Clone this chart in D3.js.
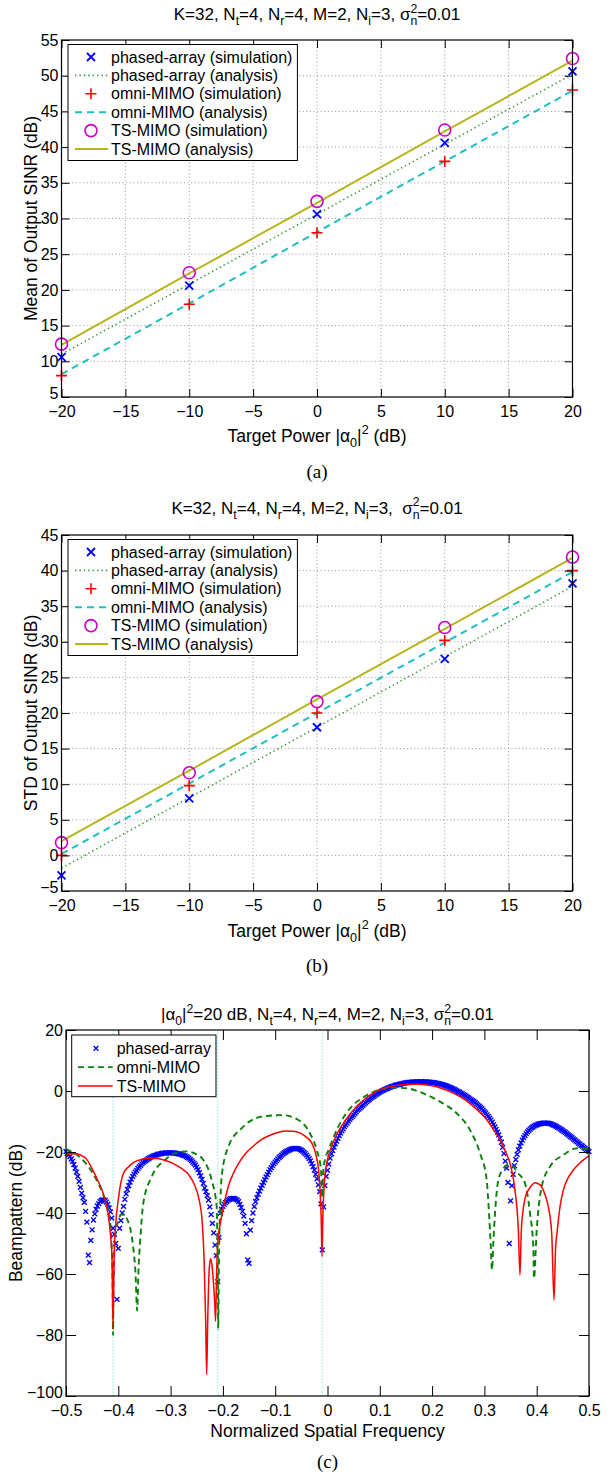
<!DOCTYPE html>
<html>
<head>
<meta charset="utf-8">
<script src="https://cdn.jsdelivr.net/npm/d3@7"></script>
<style>
  body { margin: 0; background: #fff; }
  svg { display: block; }
  text { white-space: pre; }
</style>
</head>
<body>
<svg id="fig" width="616" height="1474"></svg>
<script>
// ---------- Output SINR vs. target power (panels a, b) ----------
const targetPowerDb = [-20, -10, 0, 10, 20];

const meanPhasedSim = [10.6, 20.6, 30.6, 40.6, 50.6];
const meanPhasedAna = [11.0, 20.8, 30.6, 40.4, 50.2];
const meanOmniSim   = [8.0, 18.0, 28.0, 38.0, 48.0];
const meanOmniAna   = [8.2, 18.1, 28.1, 38.0, 47.9];
const meanTsSim     = [12.4, 22.4, 32.4, 42.4, 52.4];
const meanTsAna     = [12.3, 22.3, 32.2, 42.2, 52.1];

const stdPhasedSim = [-2.8, 8.0, 18.0, 27.6, 38.2];
const stdPhasedAna = [-1.8, 8.1, 18.0, 27.9, 37.8];
const stdOmniSim   = [0.0, 9.8, 20.0, 30.2, 40.0];
const stdOmniAna   = [0.2, 10.1, 20.0, 29.9, 39.8];
const stdTsSim     = [1.8, 11.6, 21.6, 32.0, 41.9];
const stdTsAna     = [2.0, 11.9, 21.9, 31.8, 41.8];

const sinrLegendLabels = [
  "phased-array (simulation)", "phased-array (analysis)",
  "omni-MIMO (simulation)", "omni-MIMO (analysis)",
  "TS-MIMO (simulation)", "TS-MIMO (analysis)"
];

// ---------- Beampattern (panel c) ----------
// phased-array samples on a uniform spatial-frequency grid, step 0.0025
const phasedFreqStart = -0.5, phasedFreqStep = 0.0025;
const phasedBeamDb = [
  -19.9, -20.4, -20.9, -21.5, -22.3, -23.1, -24.1, -25.3, -26.6, -28.0,
  -29.6, -31.6, -33.5, -35.0, -36.5, -39.5, -43.0, -53.8, -56.3, -49.0,
  -45.5, -42.3, -40.3, -38.8, -37.7, -36.9, -36.3, -35.9, -35.7, -35.7,
  -35.9, -36.4, -37.2, -38.3, -39.6, -41.7, -45.0, -47.0, -50.0, -68.3,
  -51.6, -45.0, -42.5, -40.0, -37.8, -35.5, -33.7, -32.3, -31.0, -29.9,
  -28.9, -28.0, -27.3, -26.6, -26.0, -25.4, -24.9, -24.4, -23.9, -23.5,
  -23.1, -22.8, -22.5, -22.2, -21.9, -21.7, -21.5, -21.3, -21.1, -21.0,
  -20.8, -20.7, -20.6, -20.5, -20.4, -20.4, -20.3, -20.3, -20.3, -20.3,
  -20.3, -20.3, -20.3, -20.4, -20.4, -20.5, -20.6, -20.7, -20.8, -21.0,
  -21.1, -21.3, -21.5, -21.8, -22.0, -22.4, -22.8, -23.3, -23.8, -24.3,
  -25.0, -25.8, -26.8, -27.8, -29.0, -30.3, -31.8, -33.0, -34.3, -35.8,
  -38.0, -40.5, -43.4, -46.5, -50.5, -54.0, -62.5, -48.0, -40.1, -38.8,
  -37.8, -37.2, -36.6, -36.2, -35.8, -35.5, -35.3, -35.2, -35.2, -35.3,
  -35.5, -35.8, -36.3, -37.2, -38.2, -39.5, -41.0, -43.4, -46.8, -55.4,
  -56.5, -45.6, -42.5, -40.0, -37.9, -36.3, -35.0, -33.8, -32.8, -31.8,
  -30.9, -30.0, -29.1, -28.2, -27.4, -26.6, -25.8, -25.1, -24.5, -23.9,
  -23.3, -22.8, -22.3, -21.8, -21.4, -21.0, -20.6, -20.3, -20.0, -19.7,
  -19.5, -19.3, -19.1, -19.0, -18.9, -18.8, -18.8, -18.9, -19.0, -19.2,
  -19.4, -19.7, -20.1, -20.5, -21.0, -21.6, -22.2, -22.9, -23.8, -24.8,
  -25.9, -27.3, -28.8, -30.8, -33.0, -37.0, -52.1, -38.0, -31.0, -28.0,
  -26.0, -24.0, -22.0, -20.6, -19.5, -18.4, -17.3, -16.4, -15.5, -14.6,
  -13.8, -13.1, -12.4, -11.7, -11.1, -10.5, -9.9, -9.3, -8.8, -8.3,
  -7.8, -7.3, -6.8, -6.3, -5.9, -5.5, -5.1, -4.7, -4.3, -3.9,
  -3.5, -3.1, -2.8, -2.4, -2.1, -1.8, -1.5, -1.2, -0.9, -0.6,
  -0.4, -0.1, 0.1, 0.3, 0.5, 0.7, 0.9, 1.1, 1.3, 1.4,
  1.6, 1.7, 1.9, 2.0, 2.1, 2.2, 2.3, 2.4, 2.5, 2.6,
  2.7, 2.7, 2.8, 2.8, 2.9, 2.9, 3.0, 3.0, 3.0, 3.0,
  3.1, 3.1, 3.1, 3.0, 3.0, 3.0, 3.0, 2.9, 2.9, 2.8,
  2.8, 2.7, 2.7, 2.6, 2.5, 2.4, 2.3, 2.2, 2.1, 1.9,
  1.8, 1.6, 1.5, 1.3, 1.1, 0.9, 0.7, 0.5, 0.3, 0.0,
  -0.2, -0.4, -0.7, -0.9, -1.2, -1.4, -1.7, -2.0, -2.3, -2.6,
  -2.9, -3.2, -3.5, -3.8, -4.2, -4.6, -5.0, -5.4, -5.8, -6.3,
  -6.8, -7.3, -7.8, -8.3, -8.9, -9.5, -10.2, -11.0, -11.8, -12.6,
  -13.5, -14.4, -15.5, -16.8, -18.5, -20.5, -23.0, -25.3, -30.0, -50.0,
  -36.0, -31.0, -27.3, -24.5, -22.5, -20.8, -19.3, -18.1, -17.0, -16.1,
  -15.3, -14.6, -14.0, -13.4, -12.9, -12.5, -12.1, -11.8, -11.5, -11.3,
  -11.1, -10.9, -10.8, -10.7, -10.6, -10.5, -10.5, -10.5, -10.5, -10.6,
  -10.7, -10.8, -11.0, -11.2, -11.4, -11.6, -11.9, -12.1, -12.4, -12.7,
  -13.0, -13.3, -13.6, -14.0, -14.3, -14.6, -15.0, -15.3, -15.7, -16.0,
  -16.4, -16.7, -17.1, -17.4, -17.8, -18.1, -18.5, -18.8, -19.2, -19.5,
  -19.9
];

const omniBeamFreq = [
  -0.500, -0.490, -0.483, -0.470, -0.457, -0.447, -0.438, -0.430, -0.4254, -0.4159,
  -0.413, -0.411, -0.410, -0.409, -0.406, -0.400, -0.394, -0.388, -0.382, -0.376,
  -0.371, -0.367, -0.364, -0.361, -0.3585, -0.3522, -0.3361, -0.3107, -0.290, -0.270,
  -0.255, -0.2375, -0.2215, -0.2119, -0.2105, -0.2095, -0.209, -0.2075, -0.2055, -0.2023,
  -0.1897, -0.164, -0.1258, -0.0876, -0.0558, -0.0335, -0.0207, -0.0124, -0.0105, -0.008,
  -0.004, 0.0016, 0.0207, 0.035, 0.0462, 0.0654, 0.085, 0.105, 0.125, 0.1514,
  0.1832, 0.2151, 0.247, 0.2725, 0.2916, 0.3044, 0.3088, 0.312, 0.3145, 0.317,
  0.3203, 0.3266, 0.3362, 0.345, 0.353, 0.362, 0.3776, 0.3872, 0.3935, 0.3948,
  0.400, 0.4095, 0.4254, 0.4509, 0.4764, 0.500
];
const omniBeamDb = [
  -19.1, -19.8, -20.4, -22.3, -24.8, -27.5, -30.3, -33.5, -35.7, -42.3,
  -50.0, -62.0, -80.0, -62.0, -48.0, -42.5, -40.5, -40.8, -42.5, -46.0,
  -52.0, -60.0, -72.0, -57.0, -50.0, -36.8, -28.1, -22.6, -20.3, -19.8,
  -20.4, -22.6, -29.2, -37.9, -50.0, -65.0, -78.0, -55.0, -40.0, -28.0,
  -18.3, -12.2, -8.4, -7.9, -9.5, -13.9, -19.3, -25.9, -35.0, -26.0,
  -22.0, -19.5, -11.7, -7.5, -5.1, -2.4, -0.5, 0.6, 1.1, 0.9,
  -0.8, -3.5, -7.3, -12.8, -20.4, -29.2, -40.1, -50.0, -58.7, -50.0,
  -40.1, -29.2, -25.5, -24.2, -24.5, -26.5, -30.3, -40.1, -51.0, -61.4,
  -45.6, -31.4, -24.8, -21.0, -18.8, -19.1
];

const tsBeamFreq = [
  -0.500, -0.490, -0.480, -0.470, -0.460, -0.450, -0.440, -0.430, -0.425, -0.420,
  -0.415, -0.412, -0.410, -0.408, -0.405, -0.400, -0.395, -0.390, -0.380, -0.370,
  -0.355, -0.340, -0.325, -0.310, -0.295, -0.280, -0.265, -0.255, -0.245, -0.240,
  -0.236, -0.233, -0.231, -0.229, -0.226, -0.2235, -0.221, -0.218, -0.2155, -0.214,
  -0.212, -0.210, -0.205, -0.200, -0.190, -0.180, -0.170, -0.155, -0.140, -0.125,
  -0.110, -0.095, -0.080, -0.065, -0.050, -0.040, -0.030, -0.022, -0.017, -0.014,
  -0.012, -0.0105, -0.009, -0.007, -0.005, 0.000, 0.005, 0.015, 0.027, 0.040,
  0.055, 0.070, 0.088, 0.105, 0.120, 0.140, 0.158, 0.175, 0.190, 0.210,
  0.234, 0.255, 0.273, 0.290, 0.305, 0.318, 0.330, 0.340, 0.349, 0.3585,
  0.3649, 0.368, 0.3705, 0.3732, 0.378, 0.384, 0.390, 0.3967, 0.403, 0.4095,
  0.416, 0.4222, 0.4287, 0.4331, 0.436, 0.4394, 0.445, 0.4509, 0.460, 0.470,
  0.480, 0.490, 0.500
];
const tsBeamDb = [
  -21.0, -20.6, -20.6, -21.2, -22.5, -25.5, -29.0, -33.0, -36.0, -40.0,
  -47.0, -55.0, -78.0, -55.0, -44.0, -35.5, -30.0, -27.0, -24.8, -23.3,
  -22.4, -22.0, -22.1, -22.8, -23.8, -25.3, -27.5, -30.5, -36.0, -42.0,
  -55.0, -75.0, -93.0, -75.0, -58.0, -55.0, -57.0, -63.0, -70.0, -75.5,
  -60.0, -50.0, -43.5, -39.0, -31.5, -27.0, -23.7, -20.2, -17.8, -15.8,
  -14.5, -13.6, -13.1, -13.2, -14.0, -15.2, -17.1, -21.0, -26.0, -33.5,
  -42.0, -54.3, -42.0, -33.0, -28.0, -22.5, -19.5, -15.2, -11.5, -8.3,
  -5.2, -2.8, -0.6, 0.7, 1.5, 2.0, 2.2, 2.2, 2.0, 1.3,
  -0.2, -2.0, -4.2, -6.8, -9.5, -12.8, -16.1, -19.8, -23.7, -32.5,
  -45.6, -60.3, -46.0, -40.1, -35.0, -32.5, -31.0, -30.1, -30.4, -31.4,
  -34.0, -37.9, -46.7, -68.5, -52.0, -45.6, -37.5, -32.5, -28.5, -25.9,
  -24.0, -22.5, -21.3
];

// interference directions (normalized spatial frequency)
const interfererFreq = [-0.41, -0.21, -0.01];

const beamLegendLabels = ["phased-array", "omni-MIMO", "TS-MIMO"];

// ---------- styling ----------
const SANS = "'Liberation Sans', Arial, Helvetica, sans-serif";
const SERIF = "'Liberation Serif', 'Times New Roman', serif";
const C = {
  blue: "#0000ff", dotGreen: "#3a9d3a", red: "#ff0000", cyan: "#1fbfbf",
  magenta: "#cc00cc", olive: "#b5b51e", darkGreen: "#0a800a", guide: "#80e6e6"
};

const svg = d3.select("#fig");

// text with sub/superscripts; parts: {t, s:'sub'|'sup', dx}
function richText(parent, x, y, parts, size, anchor) {
  const t = parent.append("text")
    .attr("x", x).attr("y", y)
    .attr("font-family", SANS).attr("font-size", size)
    .attr("text-anchor", anchor || "middle").attr("fill", "#000");
  let shift = 0;
  parts.forEach(p => {
    const target = p.s === "sub" ? size * 0.32 : p.s === "sup" ? -size * 0.42 : 0;
    const span = t.append("tspan").attr("dy", target - shift).text(p.t);
    if (p.s) span.attr("font-size", size * 0.72);
    if (p.dx) span.attr("dx", p.dx);
    shift = target;
  });
  return t;
}

function xMarker(sel, s) {
  return sel.attr("d", `M${-s},${-s}L${s},${s}M${-s},${s}L${s},${-s}`);
}
function plusMarker(sel, s) {
  return sel.attr("d", `M${-s},0L${s},0M0,${-s}L0,${s}`);
}

function styleAxis(g, size) {
  g.attr("font-family", SANS).attr("font-size", size);
  g.select(".domain").remove();
  g.selectAll(".tick line").attr("stroke", "#000").attr("stroke-width", 1);
  g.selectAll(".tick text").attr("fill", "#000");
}

function drawFrame(g, x, y, box, tickLen, fmtX, fmtY, nx, ny) {
  const b = g.append("g").attr("transform", `translate(0,${box.bottom})`)
    .call(d3.axisBottom(x).ticks(nx).tickSizeInner(-tickLen).tickSizeOuter(0).tickPadding(9).tickFormat(fmtX));
  styleAxis(b, 16);
  const t = g.append("g").attr("transform", `translate(0,${box.top})`)
    .call(d3.axisTop(x).ticks(nx).tickSizeInner(-tickLen).tickSizeOuter(0).tickFormat(() => ""));
  styleAxis(t, 16);
  const l = g.append("g").attr("transform", `translate(${box.left},0)`)
    .call(d3.axisLeft(y).ticks(ny).tickSizeInner(-tickLen).tickSizeOuter(0).tickPadding(3).tickFormat(fmtY));
  styleAxis(l, 16);
  // lift the corner label a little so it clears the first x label
  l.selectAll(".tick text").filter(d => d === y.domain()[0]).attr("dy", "0.12em");
  const r = g.append("g").attr("transform", `translate(${box.right},0)`)
    .call(d3.axisRight(y).ticks(ny).tickSizeInner(-tickLen).tickSizeOuter(0).tickFormat(() => ""));
  styleAxis(r, 16);
  g.append("rect")
    .attr("x", box.left).attr("y", box.top)
    .attr("width", box.right - box.left).attr("height", box.bottom - box.top)
    .attr("fill", "none").attr("stroke", "#000").attr("stroke-width", 1.2);
}

const minusFmt = d => (d < 0 ? "\u2212" : "") + Math.abs(d);

// ---------- SINR panels ----------
function sinrPanel(box, yDomain, data, yLabel, titleParts, titleY, xTitleY, tagY, tag) {
  const g = svg.append("g");
  const x = d3.scaleLinear().domain([-20, 20]).range([box.left, box.right]);
  const y = d3.scaleLinear().domain(yDomain).range([box.bottom, box.top]);

  // dotted grid
  const grid = g.append("g").attr("stroke", "#8a8a8a").attr("stroke-width", 0.9)
    .attr("stroke-dasharray", "1,2.6");
  grid.selectAll(".gx").data(x.ticks(10).slice(1, -1)).join("line")
    .attr("x1", d => x(d)).attr("x2", d => x(d)).attr("y1", box.top).attr("y2", box.bottom);
  grid.selectAll(".gy").data(y.ticks(10).slice(1, -1)).join("line")
    .attr("y1", d => y(d)).attr("y2", d => y(d)).attr("x1", box.left).attr("x2", box.right);

  const line = d3.line().x((d, i) => x(targetPowerDb[i])).y(d => y(d));

  // analysis curves
  g.append("path").attr("d", line(data.phasedAna)).attr("fill", "none")
    .attr("stroke", C.dotGreen).attr("stroke-width", 1.6).attr("stroke-dasharray", "1.4,3");
  g.append("path").attr("d", line(data.omniAna)).attr("fill", "none")
    .attr("stroke", C.cyan).attr("stroke-width", 2).attr("stroke-dasharray", "7,5");
  g.append("path").attr("d", line(data.tsAna)).attr("fill", "none")
    .attr("stroke", C.olive).attr("stroke-width", 2);

  // simulation markers
  g.selectAll(".px").data(data.phasedSim).join("path")
    .call(xMarker, 4)
    .attr("transform", (d, i) => `translate(${x(targetPowerDb[i])},${y(d)})`)
    .attr("stroke", C.blue).attr("stroke-width", 1.8).attr("fill", "none");
  g.selectAll(".op").data(data.omniSim).join("path")
    .call(plusMarker, 5.5)
    .attr("transform", (d, i) => `translate(${x(targetPowerDb[i])},${y(d)})`)
    .attr("stroke", C.red).attr("stroke-width", 1.6).attr("fill", "none");
  g.selectAll(".tc").data(data.tsSim).join("circle")
    .attr("cx", (d, i) => x(targetPowerDb[i])).attr("cy", d => y(d)).attr("r", 6)
    .attr("stroke", C.magenta).attr("stroke-width", 1.6).attr("fill", "none");

  drawFrame(g, x, y, box, 8, minusFmt, minusFmt, 10, 10);

  // legend
  const lx = box.left + 6.5, ly = box.top + 4.5, rowH = 18.4;
  const lg = g.append("g");
  const frame = lg.append("rect").attr("x", lx).attr("y", ly).attr("height", 116)
    .attr("fill", "#fff").attr("stroke", "#000").attr("stroke-width", 1);
  let maxW = 0;
  sinrLegendLabels.forEach((lab, k) => {
    const cy = ly + 12.5 + rowH * k;
    const t = lg.append("text").attr("x", lx + 43).attr("y", cy + 5.6)
      .attr("font-family", SANS).attr("font-size", 16).text(lab);
    maxW = Math.max(maxW, t.node().getComputedTextLength());
    const mx = lx + 23;
    if (k === 0) lg.append("path").call(xMarker, 4).attr("transform", `translate(${mx},${cy})`)
      .attr("stroke", C.blue).attr("stroke-width", 1.8);
    if (k === 2) lg.append("path").call(plusMarker, 5.5).attr("transform", `translate(${mx},${cy})`)
      .attr("stroke", C.red).attr("stroke-width", 1.6);
    if (k === 4) lg.append("circle").attr("cx", mx).attr("cy", cy).attr("r", 6)
      .attr("stroke", C.magenta).attr("stroke-width", 1.6).attr("fill", "none");
    const sample = lg.append("line").attr("x1", lx + 7).attr("x2", lx + 40).attr("y1", cy).attr("y2", cy);
    if (k === 1) sample.attr("stroke", C.dotGreen).attr("stroke-width", 1.6).attr("stroke-dasharray", "1.4,3");
    else if (k === 3) sample.attr("stroke", C.cyan).attr("stroke-width", 2).attr("stroke-dasharray", "7,5");
    else if (k === 5) sample.attr("stroke", C.olive).attr("stroke-width", 2);
    else sample.remove();
  });
  frame.attr("width", 43 + maxW + 5);

  // titles
  richText(g, (box.left + box.right) / 2, titleY, titleParts, 17);
  richText(g, (box.left + box.right) / 2, xTitleY, [
    { t: "Target Power |\u03b1" }, { t: "0", s: "sub" }, { t: "|" }, { t: "2", s: "sup" }, { t: " (dB)" }
  ], 17.5);
  g.append("text")
    .attr("transform", `translate(37,${(box.top + box.bottom) / 2}) rotate(-90)`)
    .attr("text-anchor", "middle").attr("font-family", SANS).attr("font-size", 17.5).text(yLabel);
  g.append("text").attr("x", (box.left + box.right) / 2).attr("y", tagY)
    .attr("text-anchor", "middle").attr("font-family", SERIF).attr("font-size", 19).text(tag);
}

const sinrTitle = [
  { t: "K=32, N" }, { t: "t", s: "sub" }, { t: "=4, N" }, { t: "r", s: "sub" },
  { t: "=4, M=2, N" }, { t: "i", s: "sub" }, { t: "=3, \u03c3" },
  { t: "2", s: "sup" }, { t: "n", s: "sub", dx: -6.8 }, { t: "=0.01" }
];
const sinrTitleB = [
  { t: "K=32, N" }, { t: "t", s: "sub" }, { t: "=4, N" }, { t: "r", s: "sub" },
  { t: "=4, M=2, N" }, { t: "i", s: "sub" }, { t: "=3,  \u03c3" },
  { t: "2", s: "sup" }, { t: "n", s: "sub", dx: -6.8 }, { t: "=0.01" }
];

sinrPanel({ left: 61.5, right: 572.5, top: 40, bottom: 397 }, [5, 55],
  { phasedSim: meanPhasedSim, phasedAna: meanPhasedAna, omniSim: meanOmniSim,
    omniAna: meanOmniAna, tsSim: meanTsSim, tsAna: meanTsAna },
  "Mean of Output SINR (dB)", sinrTitle, 20, 441.5, 478, "(a)");

sinrPanel({ left: 61.5, right: 572.5, top: 535, bottom: 891 }, [-5, 45],
  { phasedSim: stdPhasedSim, phasedAna: stdPhasedAna, omniSim: stdOmniSim,
    omniAna: stdOmniAna, tsSim: stdTsSim, tsAna: stdTsAna },
  "STD of Output SINR (dB)", sinrTitleB, 513.5, 936.5, 972, "(b)");

// ---------- beampattern panel ----------
(function beamPanel() {
  const box = { left: 66, right: 589, top: 1030, bottom: 1396 };
  const g = svg.append("g");
  const x = d3.scaleLinear().domain([-0.5, 0.5]).range([box.left, box.right]);
  const y = d3.scaleLinear().domain([-100, 20]).range([box.bottom, box.top]);

  // interferer guides
  g.selectAll(".guide").data(interfererFreq).join("line")
    .attr("x1", d => x(d)).attr("x2", d => x(d)).attr("y1", box.top).attr("y2", box.bottom)
    .attr("stroke", C.guide).attr("stroke-width", 1.2).attr("stroke-dasharray", "1.2,2");

  // phased-array samples
  g.selectAll(".pa").data(phasedBeamDb).join("path")
    .call(xMarker, 2.4)
    .attr("transform", (d, i) => `translate(${x(phasedFreqStart + i * phasedFreqStep)},${y(d)})`)
    .attr("stroke", C.blue).attr("stroke-width", 1.4).attr("fill", "none");

  const omniLine = d3.line().x((d, i) => x(omniBeamFreq[i])).y(d => y(d)).curve(d3.curveMonotoneX);
  g.append("path").attr("d", omniLine(omniBeamDb)).attr("fill", "none")
    .attr("stroke", C.darkGreen).attr("stroke-width", 1.9).attr("stroke-dasharray", "6,4");

  const tsLine = d3.line().x((d, i) => x(tsBeamFreq[i])).y(d => y(d)).curve(d3.curveMonotoneX);
  g.append("path").attr("d", tsLine(tsBeamDb)).attr("fill", "none")
    .attr("stroke", C.red).attr("stroke-width", 1.5);

  const fmtX = d => Math.abs(d) < 1e-9 ? "0" : (d < 0 ? "\u2212" : "") + d3.format(".1f")(Math.abs(d));
  drawFrame(g, x, y, box, 10, fmtX, minusFmt, 10, 6);

  // legend
  const lx = box.left + 5.7, ly = box.top + 5, rowH = 18.85;
  const lg = g.append("g");
  const frame = lg.append("rect").attr("x", lx).attr("y", ly).attr("height", 61.7)
    .attr("fill", "#fff").attr("stroke", "#000").attr("stroke-width", 1);
  let maxW = 0;
  beamLegendLabels.forEach((lab, k) => {
    const cy = ly + 13.3 + rowH * k;
    const t = lg.append("text").attr("x", lx + 45).attr("y", cy + 5.6)
      .attr("font-family", SANS).attr("font-size", 16).text(lab);
    maxW = Math.max(maxW, t.node().getComputedTextLength());
    if (k === 0) lg.append("path").call(xMarker, 2.4).attr("transform", `translate(${lx + 24.3},${cy})`)
      .attr("stroke", C.blue).attr("stroke-width", 1.4);
    if (k === 1) lg.append("line").attr("x1", lx + 6.3).attr("x2", lx + 41).attr("y1", cy).attr("y2", cy)
      .attr("stroke", C.darkGreen).attr("stroke-width", 1.9).attr("stroke-dasharray", "6,4");
    if (k === 2) lg.append("line").attr("x1", lx + 6.3).attr("x2", lx + 41).attr("y1", cy).attr("y2", cy)
      .attr("stroke", C.red).attr("stroke-width", 1.5);
  });
  frame.attr("width", 45 + maxW + 5);

  richText(g, (box.left + box.right) / 2, 1020, [
    { t: "|\u03b1" }, { t: "0", s: "sub" }, { t: "|" }, { t: "2", s: "sup" },
    { t: "=20 dB, N" }, { t: "t", s: "sub" }, { t: "=4, N" }, { t: "r", s: "sub" },
    { t: "=4, M=2, N" }, { t: "i", s: "sub" }, { t: "=3, \u03c3" },
    { t: "2", s: "sup" }, { t: "n", s: "sub", dx: -6.8 }, { t: "=0.01" }
  ], 17);
  g.append("text").attr("x", (box.left + box.right) / 2).attr("y", 1437)
    .attr("text-anchor", "middle").attr("font-family", SANS).attr("font-size", 17.5)
    .text("Normalized Spatial Frequency");
  g.append("text")
    .attr("transform", `translate(22,${(box.top + box.bottom) / 2}) rotate(-90)`)
    .attr("text-anchor", "middle").attr("font-family", SANS).attr("font-size", 17.5)
    .text("Beampattern (dB)");
  g.append("text").attr("x", (box.left + box.right) / 2).attr("y", 1468)
    .attr("text-anchor", "middle").attr("font-family", SERIF).attr("font-size", 19).text("(c)");
})();
</script>
</body>
</html>
